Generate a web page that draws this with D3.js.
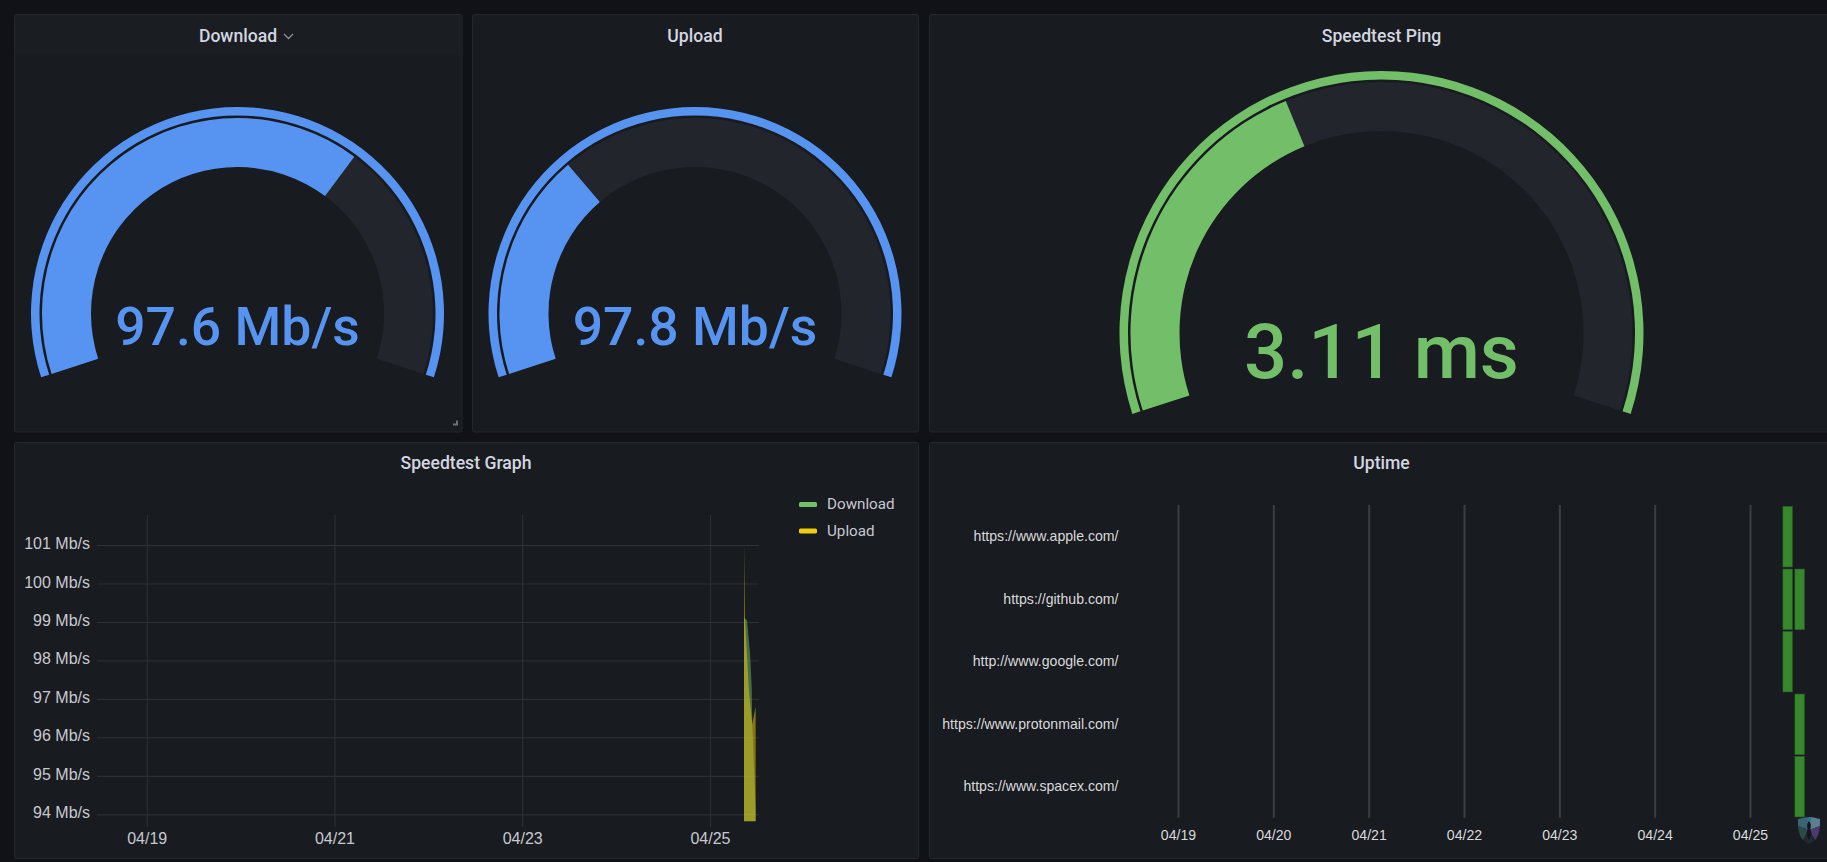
<!DOCTYPE html>
<html>
<head>
<meta charset="utf-8">
<title>Speedtest</title>
<script src="https://cdn.jsdelivr.net/npm/d3@7"></script>
<style>
    html, body { margin: 0; padding: 0; background: #111217; overflow: hidden; }
    svg { display: block; font-family: Roboto, sans-serif; }
    .title { fill: #d3d6e0; font-size: 17.6px; font-weight: 500; text-anchor: middle; }
    .axis path { display: none; }
    .speed .tick line { stroke: #2f3237; }
    .speed .tick text { fill: #c7c9d1; font-size: 16px; }
    .uptime text { font-family: "Liberation Sans", Arial, sans-serif; font-size: 14.1px; fill: #d8d9da; }
    .uptime .tick line { stroke: #3b3e43; stroke-width: 2; }
</style>
</head>
<body>
<div id="chart"></div>
<script>
// gauges
let gaugeNames = ['Download', 'Upload', 'Speedtest Ping'];
let gaugeValues = [97.6, 97.8, 3.11];
let gaugeMaxes = [145.7, 313, 7.85];
let gaugeUnits = ['Mb/s', 'Mb/s', 'ms'];

// speedtest graph, all on 04/25
let downloadTimes = ['08:42', '09:28', '10:14', '10:40', '10:49', '11:41'];
let downloadValues = [99.1, 99.05, 98.19, 97.31, 96.35, 94.1];
let uploadTimes = ['08:42', '08:57', '09:58', '10:48', '11:41'];
let uploadValues = [101.07, 99.1, 97.2, 96.35, 96.8];
let speedTicks = [94, 95, 96, 97, 98, 99, 100, 101];
let speedDates = ['04/19', '04/21', '04/23', '04/25'];

// uptime
let sites = ['https://www.apple.com/', 'https://github.com/', 'http://www.google.com/',
    'https://www.protonmail.com/', 'https://www.spacex.com/'];
let uptimeDates = ['04/19', '04/20', '04/21', '04/22', '04/23', '04/24', '04/25'];
let uptimeStarts = ['08:18', '11:19'];
let uptimeEnds = ['10:38', '13:39'];
let uptimeRuns = [[0], [0, 1], [0], [1], [1]];

const width = 1827, height = 862;
let parseDate = d3.timeParse('%Y/%m/%d %H:%M');
let day = (label, time) => parseDate('2021/' + label + ' ' + (time || '00:00'));
let fmt = d3.timeFormat('%m/%d');

let svg = d3.select('#chart').append('svg')
    .attr('width', width)
    .attr('height', height);

// panels
let panels = [
    { x: 14, y: 14, w: 447.5, h: 417.5 },
    { x: 472, y: 14, w: 446, h: 417.5 },
    { x: 929, y: 14, w: 960, h: 417.5 },
    { x: 14, y: 442, w: 904, h: 416 },
    { x: 929, y: 442, w: 960, h: 416 }
];
svg.selectAll('rect.panel').data(panels).enter()
    .append('rect')
        .classed('panel', true)
        .attr('x', (d) => d.x + 0.5)
        .attr('y', (d) => d.y + 0.5)
        .attr('width', (d) => d.w)
        .attr('height', (d) => d.h)
        .attr('rx', 2)
        .attr('fill', '#181b1f')
        .attr('stroke', '#24272c');

// hover header on the first panel
svg.append('rect')
    .attr('x', 15).attr('y', 15).attr('width', 446).attr('height', 40)
    .attr('fill', '#1a1d21');
svg.append('path')
    .attr('d', 'M284 34 L288.5 38.5 L293 34')
    .attr('fill', 'none').attr('stroke', '#8e9096').attr('stroke-width', 1.3);
svg.append('path')
    .attr('d', 'M453 425.5 H458 V420.5 H456 V423.5 H453 Z')
    .attr('fill', '#6e7075');

let titles = [
    { text: 'Download', x: 238, y: 42 },
    { text: 'Upload', x: 695, y: 42 },
    { text: 'Speedtest Ping', x: 1381.5, y: 42 },
    { text: 'Speedtest Graph', x: 466, y: 469 },
    { text: 'Uptime', x: 1381.5, y: 469 }
];
svg.selectAll('text.title').data(titles).enter()
    .append('text')
        .classed('title', true)
        .attr('x', (d) => d.x)
        .attr('y', (d) => d.y)
        .text((d) => d.text);

// gauges
const START = -0.6 * Math.PI, END = 0.6 * Math.PI;
let gaugeLayout = [
    { cx: 237.5, cy: 313.5, outer: 206.5, color: '#5794f2', font: 53.5, base: 345 },
    { cx: 695, cy: 313.5, outer: 206.5, color: '#5794f2', font: 53.5, base: 345 },
    { cx: 1381.5, cy: 333, outer: 262, color: '#73bf69', font: 76, base: 378 }
];

gaugeNames.forEach((name, i) => {
    let g = gaugeLayout[i];
    let angle = d3.scaleLinear().domain([0, gaugeMaxes[i]]).range([START, END]);
    let group = svg.append('g').attr('transform', `translate(${g.cx},${g.cy})`);
    let inner = g.outer - 60;

    group.append('path')
        .attr('d', d3.arc()({ innerRadius: g.outer - 8.5, outerRadius: g.outer, startAngle: START, endAngle: END }))
        .attr('fill', g.color);
    group.append('path')
        .attr('d', d3.arc()({ innerRadius: inner, outerRadius: g.outer - 11, startAngle: START, endAngle: END }))
        .attr('fill', '#22252b');
    group.append('path')
        .attr('d', d3.arc()({ innerRadius: inner, outerRadius: g.outer - 11, startAngle: START, endAngle: angle(gaugeValues[i]) }))
        .attr('fill', g.color);

    svg.append('text')
        .attr('x', g.cx)
        .attr('y', g.base)
        .attr('text-anchor', 'middle')
        .attr('font-size', g.font)
        .attr('font-weight', 500)
        .attr('fill', g.color)
        .text(gaugeValues[i] + ' ' + gaugeUnits[i]);
});

// speedtest graph
let speedX = d3.scaleTime()
    .domain([parseDate('2021/04/18 11:17'), parseDate('2021/04/25 12:32')])
    .range([97, 759]);
let speedY = d3.scaleLinear()
    .domain([93.67, 101.78])
    .range([827, 515]);

let speedG = svg.append('g').classed('speed', true);
let yAxis = speedG.append('g')
    .classed('axis', true)
    .attr('transform', 'translate(97,0)')
    .call(d3.axisLeft(speedY).tickValues(speedTicks).tickSize(-662).tickPadding(7)
        .tickFormat((d) => d + ' Mb/s'));
yAxis.selectAll('text').attr('dy', '0.22em');
speedG.append('g')
    .classed('axis', true)
    .attr('transform', 'translate(0,827)')
    .call(d3.axisBottom(speedX).tickValues(speedDates.map((d) => day(d))).tickSize(-312).tickPadding(6)
        .tickFormat(fmt));

let speedArea = d3.area()
    .x((d) => speedX(d.t))
    .y0(speedY(93.82))
    .y1((d) => speedY(d.v));

let toSeries = (times, values) => times.map((t, i) => ({ t: day('04/25', t), v: values[i] }));

speedG.append('path')
    .datum(toSeries(downloadTimes, downloadValues))
    .attr('d', speedArea)
    .attr('fill', '#73bf69')
    .attr('fill-opacity', 0.5);
speedG.append('path')
    .datum(toSeries(uploadTimes, uploadValues))
    .attr('d', speedArea)
    .attr('fill', '#f2cc0c')
    .attr('fill-opacity', 0.5);

// legend
let legend = speedG.selectAll('g.legend').data([
    { name: 'Download', color: '#73bf69', y: 504.5 },
    { name: 'Upload', color: '#f2cc0c', y: 531 }
]).enter().append('g').classed('legend', true);
legend.append('rect')
    .attr('x', 799).attr('y', (d) => d.y - 2.5)
    .attr('width', 18).attr('height', 5).attr('rx', 1.5)
    .attr('fill', (d) => d.color);
legend.append('text')
    .attr('x', 827).attr('y', (d) => d.y + 4.5)
    .attr('fill', '#c7c9d1').attr('font-size', 15.2)
    .text((d) => d.name);

// uptime
let upX = d3.scaleTime()
    .domain([day('04/19'), day('04/25')])
    .range([1178, 1750]);
let upY = d3.scaleBand()
    .domain(sites)
    .range([505.5, 818])
    .paddingInner(0.035)
    .paddingOuter(0.018);

let upG = svg.append('g').classed('uptime', true);
upG.append('g')
    .classed('axis', true)
    .attr('transform', 'translate(0,817.7)')
    .call(d3.axisBottom(upX).tickValues(uptimeDates.map((d) => day(d))).tickSize(-312.7).tickPadding(12)
        .tickFormat(fmt));
upG.append('g')
    .classed('axis', true)
    .attr('transform', 'translate(1118.5,0)')
    .call(d3.axisLeft(upY).tickSize(0).tickPadding(0));

sites.forEach((site, i) => {
    upG.selectAll('rect.run' + i).data(uptimeRuns[i]).enter()
        .append('rect')
            .classed('run' + i, true)
            .attr('x', (d) => upX(day('04/25', uptimeStarts[d])))
            .attr('y', upY(site))
            .attr('width', (d) => upX(day('04/25', uptimeEnds[d])) - upX(day('04/25', uptimeStarts[d])))
            .attr('height', upY.bandwidth())
            .attr('fill', '#37872d')
            .attr('stroke', '#2f6f28')
            .attr('stroke-width', 0.6);
});

// small shield in the corner
let shield = svg.append('g').attr('transform', 'translate(1809,830)');
let shieldParts = [
    { d: 'M-11 -11 Q-4 -13 0 -13 L0 0 L-11 -4 Z', fill: '#3a6474' },
    { d: 'M11 -11 Q4 -13 0 -13 L0 0 L11 -4 Z', fill: '#5a8090' },
    { d: 'M-11 -4 L0 0 L-6 10 Q-10 6 -11 -4 Z', fill: '#2c4a48' },
    { d: 'M11 -4 L0 0 L6 10 Q10 6 11 -4 Z', fill: '#4a3a70' },
    { d: 'M-6 10 L0 0 L6 10 Q3 13 0 14 Q-3 13 -6 10 Z', fill: '#1e2a30' },
    { d: 'M-2 -12 H2 V-9 H-2 Z', fill: '#22769a' }
];
shield.selectAll('path').data(shieldParts).enter()
    .append('path')
        .attr('d', (d) => d.d)
        .attr('fill', (d) => d.fill);
shield.append('path')
    .attr('d', 'M0 -9 Q3 -6 1.2 -1 Q4 4 0 10 Q-4 4 -1.2 -1 Q-3 -6 0 -9 Z')
    .attr('fill', '#14161b');
</script>
</body>
</html>
